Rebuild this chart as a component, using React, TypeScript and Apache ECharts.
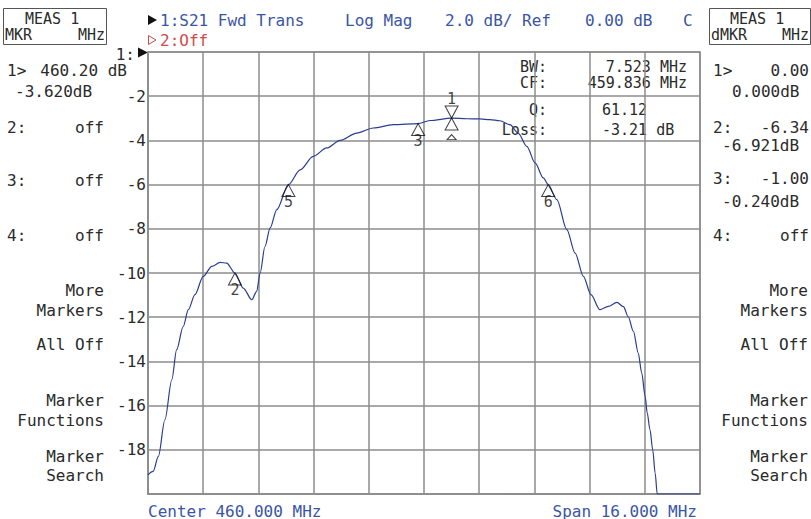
import React, { useEffect, useRef } from "react";
import * as echarts from "echarts";

// S21 trace (frequency in MHz, magnitude in dB)
const freqMHz = [
  452.0, 452.15, 452.3, 452.49, 452.69, 452.83, 453.02, 453.17, 453.36, 453.6,
  453.85, 454.09, 454.28, 454.52, 454.76, 455.01, 455.15, 455.25, 455.39, 455.54,
  455.73, 456.07, 456.41, 456.79, 457.18, 457.57, 458.05, 458.53, 459.11, 459.83,
  460.17, 460.8, 461.24, 461.62, 461.91, 462.2, 462.49, 462.73, 462.98, 463.22,
  463.46, 463.6, 463.85, 464.14, 464.38, 464.62, 464.84, 465.1, 465.34, 465.59,
  465.78, 465.92, 466.07, 466.21, 466.31, 466.41, 466.47, 466.55, 466.63, 466.7,
  466.76, 468.0,
];
const s21dB = [
  -19.13, -18.98, -18.3, -16.64, -14.83, -13.47, -12.42, -11.66, -10.98, -10.15,
  -9.7, -9.52, -9.55, -10.0, -10.68, -11.21, -10.83, -10.0, -8.8, -7.96,
  -7.14, -6.0, -5.33, -4.72, -4.34, -4.0, -3.67, -3.44, -3.29, -3.24,
  -3.1, -2.99, -3.02, -3.03, -3.06, -3.11, -3.29, -3.67, -4.27, -5.02,
  -5.7, -6.0, -6.68, -8.04, -9.1, -10.15, -10.98, -11.66, -11.51, -11.33,
  -11.52, -11.98, -12.64, -13.62, -14.52, -15.58, -16.33, -17.09, -18.0, -19.05,
  -20.0, -20.0,
];

// Markers
const markerIds = ["2", "5", "3", "6"];
const markerFreq = [454.52, 456.07, 459.83, 463.6];
const markerdB = [-10.0, -6.0, -3.24, -6.0];
const marker1Freq = 460.8;
const marker1dB = -2.99;

// Axis settings
const yMin = -20;
const yMax = 0;
const yStep = 2;
const xStart = 452;
const xStop = 468;
const xDivisions = 10;

// Text content
const headerTexts = ["1:S21 Fwd Trans", "Log Mag", "2.0 dB/ Ref", "0.00 dB", "C"];
const leftPanel = [
  ["1>", "460.20 dB"],
  ["-3.620dB"],
  ["2:", "off"],
  ["3:", "off"],
  ["4:", "off"],
];
const rightPanel = [
  ["1>", "0.00"],
  ["0.000dB"],
  ["2:", "-6.34"],
  ["-6.921dB"],
  ["3:", "-1.00"],
  ["-0.240dB"],
  ["4:", "off"],
];
const softKeys = ["More", "Markers", "All Off", "Marker", "Functions", "Marker", "Search"];
const statsLabels = ["BW:", "CF:", "Q:", "Loss:"];
const statsValues = ["7.523 MHz", "459.836 MHz", "61.12", "-3.21 dB"];

const FONT = '16px "DejaVu Sans Mono"';
const FONT_S = '15px "DejaVu Sans Mono"';
const INK = "#2a2a2a";
const BLUE = "#3a55a5";
const RED = "#d04a4a";
const GRID = "#8c8c8c";
const TRACE = "#2a3d8f";

function t(text: string, x: number, y: number, align = "left", fill = INK, font = FONT) {
  return {
    type: "text",
    x,
    y,
    silent: true,
    style: { text, fill, font, textAlign: align, textVerticalAlign: "middle" },
  };
}

function buildGraphics() {
  const g: any[] = [];
  // boxes
  g.push({ type: "rect", shape: { x: 3.5, y: 8.5, width: 103, height: 36 }, style: { fill: "none", stroke: "#555", lineWidth: 1 } });
  g.push({ type: "rect", shape: { x: 709.5, y: 8.5, width: 101, height: 36 }, style: { fill: "none", stroke: "#555", lineWidth: 1 } });
  g.push(t("MEAS 1", 25, 18.5, "left", INK, FONT_S));
  g.push(t("MKR", 5, 35, "left", INK, FONT_S));
  g.push(t("MHz", 105, 35, "right", INK, FONT_S));
  g.push(t("MEAS 1", 730, 18.5, "left", INK, FONT_S));
  g.push(t("dMKR", 711, 35, "left", INK, FONT_S));
  g.push(t("MHz", 809, 35, "right", INK, FONT_S));

  // header
  g.push({ type: "polygon", shape: { points: [[148, 15], [157, 20], [148, 25]] }, style: { fill: "#111" } });
  const hx = [160, 345, 445, 585, 683];
  headerTexts.forEach((s, i) => g.push(t(s, hx[i], 20, "left", BLUE)));
  g.push({ type: "polygon", shape: { points: [[148.5, 35.5], [156, 40], [148.5, 44.5]] }, style: { fill: "none", stroke: RED, lineWidth: 1 } });
  g.push(t("2:Off", 160, 40, "left", RED));

  // reference marker
  g.push(t("1:", 135, 54, "right"));
  g.push({ type: "polygon", shape: { points: [[138, 47.5], [148, 52.5], [138, 57.5]] }, style: { fill: "#111" } });

  // left panel
  g.push(t(leftPanel[0][0], 7, 70));
  g.push(t(leftPanel[0][1], 127, 70, "right"));
  g.push(t(leftPanel[1][0], 15, 91));
  const ly = [127, 180, 235];
  [2, 3, 4].forEach((k, i) => {
    g.push(t(leftPanel[k][0], 7, ly[i]));
    g.push(t(leftPanel[k][1], 104, ly[i], "right"));
  });

  // right panel
  g.push(t(rightPanel[0][0], 713, 70));
  g.push(t(rightPanel[0][1], 809, 70, "right"));
  g.push(t(rightPanel[1][0], 732, 91));
  g.push(t(rightPanel[2][0], 713, 127));
  g.push(t(rightPanel[2][1], 809, 127, "right"));
  g.push(t(rightPanel[3][0], 722, 145));
  g.push(t(rightPanel[4][0], 713, 178));
  g.push(t(rightPanel[4][1], 809, 178, "right"));
  g.push(t(rightPanel[5][0], 722, 201));
  g.push(t(rightPanel[6][0], 713, 235));
  g.push(t(rightPanel[6][1], 809, 235, "right"));

  const sy = [290, 310, 344, 400, 420, 456, 475];
  softKeys.forEach((s, i) => {
    g.push(t(s, 104, sy[i], "right"));
    g.push(t(s, 808, sy[i], "right"));
  });

  // stats
  const st = [66.5, 83, 110, 130];
  statsLabels.forEach((s, i) => g.push(t(s, 547, st[i], "right", INK, FONT_S)));
  g.push(t(statsValues[0], 687, st[0], "right", INK, FONT_S));
  g.push(t(statsValues[1], 687, st[1], "right", INK, FONT_S));
  g.push(t(statsValues[2], 602, st[2], "left", INK, FONT_S));
  g.push(t(statsValues[3], 602, st[3], "left", INK, FONT_S));

  // footer
  g.push(t(`Center ${((xStart + xStop) / 2).toFixed(3)} MHz`, 148, 511, "left", BLUE));
  g.push(t(`Span ${(xStop - xStart).toFixed(3)} MHz`, 697, 511, "right", BLUE));
  return g;
}

const markerLabel = { color: "#111", fontFamily: "DejaVu Sans Mono", fontSize: 15 };

export default function App() {
  const ref = useRef<HTMLDivElement>(null);
  useEffect(() => {
    const chart = echarts.init(ref.current!, null, { renderer: "svg" });
    const option: any = {
      animation: false,
      backgroundColor: "#fff",
      grid: { left: 148, right: 111, top: 52, bottom: 25, show: true, borderColor: GRID, borderWidth: 1.5, backgroundColor: "transparent" },
      xAxis: [
        { type: "value", min: xStart, max: xStop, show: false },
        {
          type: "value", min: 0, max: xDivisions, interval: 1, position: "bottom",
          axisLine: { show: true, lineStyle: { color: GRID, width: 1.5 } },
          axisTick: { show: false }, axisLabel: { show: false },
          splitLine: { show: true, lineStyle: { color: GRID, width: 1.5 } },
        },
      ],
      yAxis: {
        type: "value", min: yMin, max: yMax, interval: yStep,
        axisLine: { show: true, lineStyle: { color: GRID, width: 1.5 } },
        axisTick: { show: false },
        splitLine: { show: true, lineStyle: { color: GRID, width: 1.5 } },
        axisLabel: {
          color: INK, fontFamily: "DejaVu Sans Mono", fontSize: 16, margin: 2,
          formatter: (v: number) => (v === yMin || v === yMax ? "" : String(v)),
        },
      },
      series: [
        {
          type: "line", xAxisIndex: 0,
          data: freqMHz.map((f, i) => [f, s21dB[i]]),
          showSymbol: false, smooth: 0.3, smoothMonotone: "x",
          lineStyle: { color: TRACE, width: 1.2 },
          silent: true,
        },
        {
          type: "scatter", xAxisIndex: 0,
          data: markerFreq.map((f, i) => [f, markerdB[i]]),
          symbol: "triangle", symbolSize: [13, 12], symbolOffset: [0, 6],
          itemStyle: { color: "transparent", borderColor: "#111", borderWidth: 1 },
          label: { show: true, position: "bottom", distance: -3, formatter: (p: any) => markerIds[p.dataIndex], ...markerLabel },
          z: 5,
        },
        {
          type: "scatter", xAxisIndex: 0,
          data: [[marker1Freq, marker1dB]],
          symbol: "path://M0,0L10,0L5,10Z", symbolSize: [13, 12], symbolOffset: [0, -6],
          itemStyle: { color: "transparent", borderColor: "#111", borderWidth: 1 },
          label: { show: true, position: "top", distance: -1, formatter: "1", ...markerLabel },
          z: 5,
        },
        {
          type: "scatter", xAxisIndex: 0,
          data: [[marker1Freq, marker1dB]],
          symbol: "triangle", symbolSize: [13, 12], symbolOffset: [0, 6],
          itemStyle: { color: "transparent", borderColor: "#111", borderWidth: 1 },
          z: 5,
        },
        {
          type: "scatter", xAxisIndex: 0,
          data: [[marker1Freq, marker1dB]],
          symbol: "triangle", symbolSize: [9, 5], symbolOffset: [0, 19],
          itemStyle: { color: "transparent", borderColor: "#111", borderWidth: 1 },
          z: 5,
        },
      ],
      graphic: buildGraphics(),
    };
    chart.setOption(option);
    return () => chart.dispose();
  }, []);
  return <div ref={ref} style={{ position: "fixed", left: 0, top: 0, width: 811, height: 519, background: "#fff" }} />;
}
